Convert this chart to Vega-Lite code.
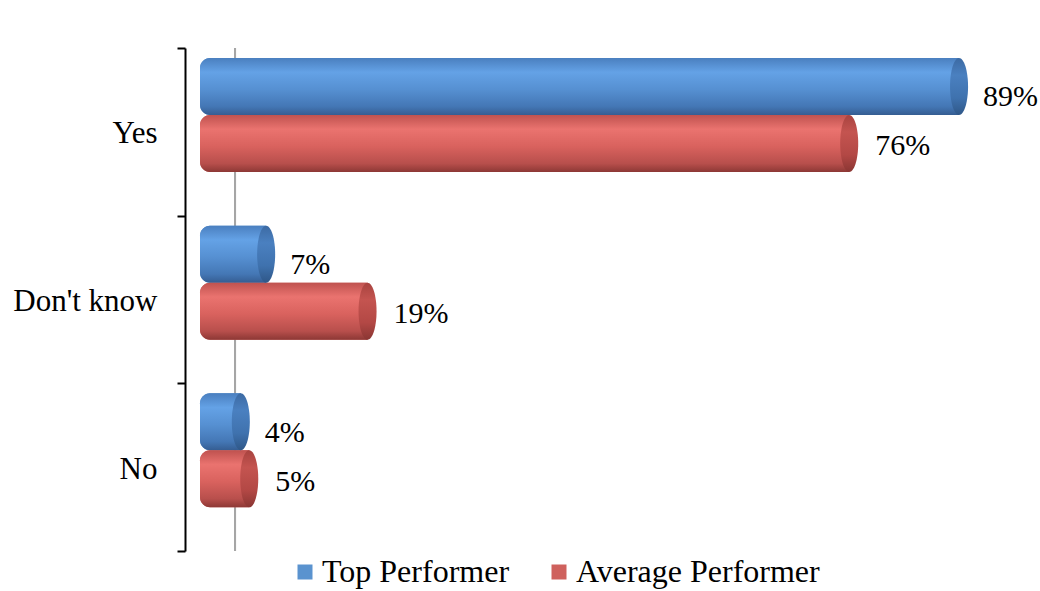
{
  "$schema": "https://vega.github.io/schema/vega-lite/v6.json",
  "autosize": "none",
  "width": 830,
  "height": 503,
  "padding": {"left": 200, "top": 48, "right": 10, "bottom": 40},
  "background": "white",
  "config": {"view": {"stroke": null}, "font": "Liberation Serif"},
  "data": {
    "values": [
      {"category": "Yes", "series": "Top Performer", "value": 0.89},
      {"category": "Yes", "series": "Average Performer", "value": 0.76},
      {"category": "Don't know", "series": "Top Performer", "value": 0.07},
      {"category": "Don't know", "series": "Average Performer", "value": 0.19},
      {"category": "No", "series": "Top Performer", "value": 0.04},
      {"category": "No", "series": "Average Performer", "value": 0.05}
    ]
  },
  "layer": [
    {
      "mark": {"type": "rule", "color": "#a6a6a6", "strokeWidth": 2},
      "encoding": {"x": {"datum": 0.0225, "type": "quantitative", "axis": null, "scale": {"domain": [-0.01893, 0.96331], "zero": false, "nice": false}}}
    },
    {
      "encoding": {
        "x": {"field": "value", "type": "quantitative", "axis": null, "scale": {"domain": [-0.01893, 0.96331], "zero": false, "nice": false}},
        "y": {
          "field": "category", "type": "nominal", "sort": ["Yes", "Don't know", "No"],
          "scale": {"padding": 0},
          "axis": {
            "title": null, "labelFont": "Liberation Serif", "labelFontSize": 31, "labelColor": "black",
            "domainColor": "black", "domainWidth": 2, "tickColor": "black", "tickWidth": 2, "tickSize": 8,
            "labelPadding": 20, "offset": 15, "tickBand": "extent", "labelOffset": 2
          }
        },
        "yOffset": {
          "field": "series", "type": "nominal",
          "scale": {"domain": ["Top Performer", "Average Performer"], "paddingInner": 0, "paddingOuter": 0.471, "align": 0.186}
        }
      },
      "layer": [
        {
          "mark": {"type": "bar", "cornerRadiusTopLeft": 10, "cornerRadiusBottomLeft": 10, "xOffset": -9},
          "encoding": {
            "x2": {"datum": -0.01893},
            "color": {
              "field": "series", "type": "nominal",
              "scale": {"domain": ["Top Performer", "Average Performer"], "range": ["#5A93CF", "#CF615D"]},
              "legend": {
                "title": null, "orient": "none", "legendX": 89, "legendY": 508, "direction": "horizontal",
                "symbolType": "square", "symbolSize": 225, "symbolStrokeWidth": 0,
                "labelFont": "Liberation Serif", "labelFontSize": 32, "labelColor": "black",
                "labelOffset": 1, "columnPadding": 33, "labelLimit": 400
              }
            }
          }
        },
        {
          "transform": [{"filter": "datum.series === 'Top Performer'"}],
          "mark": {
            "type": "bar", "cornerRadiusTopLeft": 10, "cornerRadiusBottomLeft": 10, "xOffset": -9,
            "color": {"gradient": "linear", "x1": 0, "y1": 0, "x2": 0, "y2": 1, "stops": [
              {"offset": 0, "color": "#4a7fbf"}, {"offset": 0.25, "color": "#64a2e6"},
              {"offset": 0.55, "color": "#5690d2"}, {"offset": 0.85, "color": "#4477b5"}, {"offset": 1, "color": "#355d92"}]}
          },
          "encoding": {"x2": {"datum": -0.01893}}
        },
        {
          "transform": [{"filter": "datum.series === 'Average Performer'"}],
          "mark": {
            "type": "bar", "cornerRadiusTopLeft": 10, "cornerRadiusBottomLeft": 10, "xOffset": -9,
            "color": {"gradient": "linear", "x1": 0, "y1": 0, "x2": 0, "y2": 1, "stops": [
              {"offset": 0, "color": "#bf524f"}, {"offset": 0.25, "color": "#ea736f"},
              {"offset": 0.55, "color": "#d9625e"}, {"offset": 0.85, "color": "#b84f4c"}, {"offset": 1, "color": "#8d3835"}]}
          },
          "encoding": {"x2": {"datum": -0.01893}}
        },
        {
          "transform": [{"filter": "datum.series === 'Top Performer'"}],
          "mark": {
            "type": "point", "shape": "M0,-1A0.316,1 0 1,1 0,1A0.316,1 0 1,1 0,-1Z", "size": 3249,
            "filled": true, "opacity": 1, "strokeWidth": 0, "xOffset": -9,
            "color": {"gradient": "linear", "x1": 0, "y1": 0, "x2": 0, "y2": 1, "stops": [
              {"offset": 0, "color": "#3c6aa3"}, {"offset": 0.3, "color": "#4a80c0"},
              {"offset": 0.7, "color": "#3f72ae"}, {"offset": 1, "color": "#2f5788"}]}
          }
        },
        {
          "transform": [{"filter": "datum.series === 'Average Performer'"}],
          "mark": {
            "type": "point", "shape": "M0,-1A0.316,1 0 1,1 0,1A0.316,1 0 1,1 0,-1Z", "size": 3249,
            "filled": true, "opacity": 1, "strokeWidth": 0, "xOffset": -9,
            "color": {"gradient": "linear", "x1": 0, "y1": 0, "x2": 0, "y2": 1, "stops": [
              {"offset": 0, "color": "#a8433f"}, {"offset": 0.3, "color": "#c45450"},
              {"offset": 0.7, "color": "#b34845"}, {"offset": 1, "color": "#8a3633"}]}
          }
        },
        {
          "transform": [{"filter": "datum.series === 'Top Performer'"}],
          "mark": {"type": "text", "align": "left", "baseline": "middle", "dx": 15, "dy": 11, "font": "Liberation Serif", "fontSize": 30, "color": "black"},
          "encoding": {"text": {"field": "value", "type": "quantitative", "format": ".0%"}}
        },
        {
          "transform": [{"filter": "datum.series === 'Average Performer'"}],
          "mark": {"type": "text", "align": "left", "baseline": "middle", "dx": 17, "dy": 3, "font": "Liberation Serif", "fontSize": 30, "color": "black"},
          "encoding": {"text": {"field": "value", "type": "quantitative", "format": ".0%"}}
        }
      ]
    }
  ]
}
